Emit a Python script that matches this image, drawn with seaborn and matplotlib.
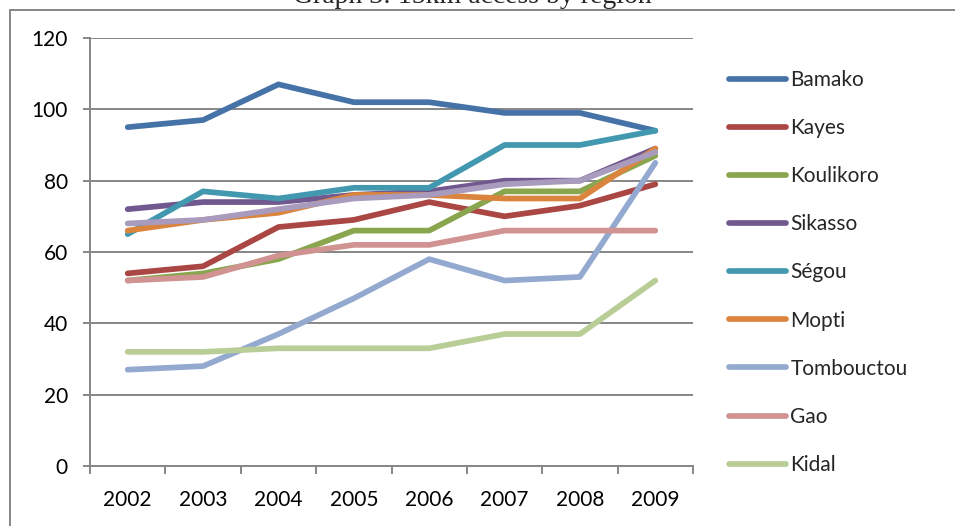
import matplotlib
matplotlib.use("Agg")
import matplotlib.pyplot as plt
import seaborn as sns
import pandas as pd
import numpy as np
from matplotlib.lines import Line2D
from matplotlib.patches import Rectangle

years = ["2002", "2003", "2004", "2005", "2006", "2007", "2008", "2009"]
bamako = [95, 97, 107, 102, 102, 99, 99, 94]
kayes = [54, 56, 67, 69, 74, 70, 73, 79]
koulikoro = [52, 54, 58, 66, 66, 77, 77, 87]
sikasso = [72, 74, 74, 76, 77, 80, 80, 89]
segou = [65, 77, 75, 78, 78, 90, 90, 94]
mopti = [66, 69, 71, 76, 76, 75, 75, 89]
tombouctou = [27, 28, 37, 47, 58, 52, 53, 85]
gao = [52, 53, 59, 62, 62, 66, 66, 66]
kidal = [32, 32, 33, 33, 33, 37, 37, 52]
unlabelled = [68, 69, 72, 75, 76, 79, 80, 88]  # 10th series, not shown in legend

regions = ["Bamako", "Kayes", "Koulikoro", "Sikasso", "Ségou", "Mopti",
           "Tombouctou", "Gao", "Kidal", "_series10"]
series = [bamako, kayes, koulikoro, sikasso, segou, mopti, tombouctou, gao, kidal, unlabelled]
colors = ["#4572A7", "#AA4643", "#89A54E", "#71588F", "#4198AF", "#DB843D",
          "#93A9CF", "#D19392", "#B9CD96", "#A99BBD"]

rows = []
for name, vals in zip(regions, series):
    for y, v in zip(years, vals):
        rows.append({"Year": y, "Value": v, "Region": name})
df = pd.DataFrame(rows)

sns.set_theme(style="white")
plt.rcParams["font.family"] = ["Lato", "DejaVu Sans"]

fig = plt.figure(figsize=(9.55, 5.26), dpi=100)
ax = fig.add_axes([90 / 955, 1 - 466 / 526, (693 - 90) / 955, (466 - 38) / 526])

LW = 4.1
FS = 15
sns.lineplot(data=df, x="Year", y="Value", hue="Region", hue_order=regions,
             palette=colors, linewidth=LW, ax=ax, legend=False, sort=False)
for ln in ax.get_lines():
    ln.set_solid_capstyle("round")
    ln.set_solid_joinstyle("round")

grey = "#868686"
ax.set_ylim(0, 120)
ax.set_yticks(range(0, 121, 20))
ax.set_xlim(-0.5, 7.5)
ax.set_xticks(range(len(years)))
ax.set_xticklabels(years)
ax.set_xticks(np.arange(-0.5, 8, 1), minor=True)
ax.yaxis.grid(True, color=grey, lw=1.4)
ax.set_axisbelow(True)
for s in ["top", "right"]:
    ax.spines[s].set_visible(False)
for s in ["left", "bottom"]:
    ax.spines[s].set_color(grey)
    ax.spines[s].set_linewidth(1.4)
ax.tick_params(axis="y", left=True, length=5, width=1.4, color=grey, direction="out",
               pad=11, labelsize=FS, labelcolor="black")
ax.tick_params(axis="x", which="major", bottom=False, length=0, pad=17, labelsize=FS,
               labelcolor="black")
ax.tick_params(axis="x", which="minor", bottom=True, length=6, width=1.4, color=grey,
               direction="out")
ax.set_xlabel("")
ax.set_ylabel("")

handles = [Line2D([], [], color=c, lw=LW, solid_capstyle="round") for c in colors[:9]]
fig.legend(handles, regions[:9], loc="upper left",
           bbox_to_anchor=(729 / 955, 1 - 70 / 526), frameon=False, fontsize=FS,
           handlelength=2.75, handletextpad=0.2, labelspacing=1.35,
           borderpad=0, borderaxespad=0)

fig.text(472 / 955, 1 - 3 / 526, "Graph 3: 15km access by region", ha="center",
         va="baseline", family=["Liberation Serif", "DejaVu Serif"], fontsize=20)

fig.patches.append(Rectangle((10 / 955, -0.1), 1.1, (1 - 10 / 526) + 0.1,
                             transform=fig.transFigure, fill=False, ec=grey, lw=1.4))

fig.savefig("out.png", dpi=100)
